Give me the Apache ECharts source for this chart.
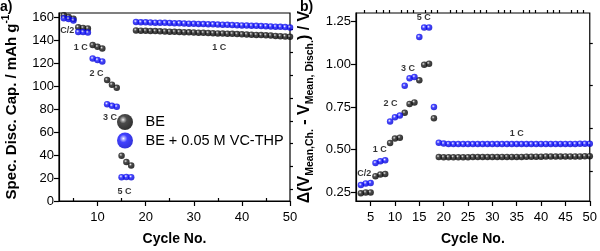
<!DOCTYPE html>
<html><head><meta charset="utf-8">
<script src="https://cdn.jsdelivr.net/npm/echarts@6/dist/echarts.min.js"></script>
<style>html,body{margin:0;padding:0;background:#fff}#c{width:600px;height:251px}</style>
</head><body><div id="c"></div><script>
// ---- Panel a) specific discharge capacity ----
const leftCycles = [3,4,5,6,7,8,9,10,11,12,13,14,15,16,17,
  18,19,20,21,22,23,24,25,26,27,28,29,30,31,32,33,34,35,36,37,38,39,40,41,42,43,44,45,46,47,48,49,50];
const leftBE = [162,160.5,159,151.5,151,150.5,136,134.5,133,105.5,101.5,98.7,39.5,34,31,
  148.8,148.6,148.5,148.3,148.2,148.0,147.9,147.7,147.6,147.4,147.3,147.1,147.0,146.8,146.7,146.5,146.4,146.2,146.1,145.9,145.8,145.6,145.4,145.3,145.1,144.9,144.7,144.5,144.3,144.0,143.8,143.5,143.2];
const leftVC = [159.5,158.8,157.5,147.5,147.5,147,124.3,123,121.8,84.5,83,82.3,20.8,21,20.8,
  156.2,156.0,155.9,155.8,155.6,155.5,155.4,155.3,155.1,155.0,154.9,154.7,154.6,154.5,154.3,154.2,154.1,153.9,153.8,153.7,153.5,153.4,153.2,153.1,152.9,152.8,152.6,152.5,152.3,152.1,151.9,151.7,151.4];
const leftAnnX = [3.7,6.5,9.8,12.6,15.6,35.3];
const leftAnnY = [149,133.6,111,73,8.7,134];
const leftAnnText = ['C/2','1 C','2 C','3 C','5 C','1 C'];
const leftXMajor = [10,20,30,40,50];
const leftXMinor = [5,15,25,35,45];
const leftYMajor = [0,20,40,60,80,100,120,140,160];
const leftYMinor = [10,30,50,70,90,110,130,150];

// ---- Panel b) voltage hysteresis ----
const rightCycles = [3,4,5,6,7,8,9,10,11,12,13,14,15,16,17,18,
  19,20,21,22,23,24,25,26,27,28,29,30,31,32,33,34,35,36,37,38,39,40,41,42,43,44,45,46,47,48,49,50];
const rightBE = [0.245,0.25,0.25,0.345,0.355,0.358,0.539,0.565,0.57,0.716,0.768,0.777,0.906,0.997,1.003,0.684,
  0.457,0.456,0.456,0.456,0.456,0.456,0.456,0.457,0.457,0.457,0.457,0.457,0.457,0.458,0.458,0.458,0.458,0.458,0.459,0.459,0.459,0.459,0.46,0.46,0.46,0.46,0.461,0.461,0.461,0.461,0.462,0.462];
const rightVC = [0.293,0.303,0.306,0.423,0.433,0.438,0.665,0.69,0.70,0.874,0.918,0.926,1.16,1.215,1.215,0.75,
  0.541,0.536,0.534,0.533,0.533,0.533,0.533,0.533,0.533,0.533,0.533,0.533,0.533,0.533,0.533,0.533,0.533,0.533,0.533,0.533,0.533,0.534,0.534,0.534,0.534,0.534,0.534,0.534,0.534,0.535,0.535,0.535];
const rightAnnX = [3.7,6.9,9.1,12.7,15.9,35];
const rightAnnY = [0.361,0.50,0.768,0.978,1.276,0.594];
const rightAnnText = ['C/2','1 C','2 C','3 C','5 C','1 C'];
const rightXMajor = [5,10,15,20,25,30,35,40,45,50];
const rightXMinor = [3.75,6.25,7.5,8.75,11.25,12.5,13.75,16.25,17.5,18.75,21.25,22.5,23.75,26.25,27.5,28.75,31.25,32.5,33.75,36.25,37.5,38.75,41.25,42.5,43.75,46.25,47.5,48.75];
const rightYMajor = [0.25,0.5,0.75,1.0,1.25];
const rightYMinor = [0.375,0.625,0.875,1.125];

const seriesNames = ['BE','BE + 0.05 M VC-THP'];

const FONT = '"Liberation Sans", Arial, sans-serif';
const zip = (xs, ys) => xs.map((x, i) => [x, ys[i]]);
const blackBall = {type:'radial', x:0.38, y:0.36, r:0.62, colorStops:[
  {offset:0, color:'#f0f0f0'},{offset:0.13, color:'#9a9a9a'},{offset:0.38,color:'#1e1e1e'},{offset:1,color:'#000'}]};
const blueBall = {type:'radial', x:0.4, y:0.38, r:0.62, colorStops:[
  {offset:0, color:'#ffffff'},{offset:0.14, color:'#a0a0ff'},{offset:0.4,color:'#1212ff'},{offset:1,color:'#0000d0'}]};

function valAxis(grid, min, max, ticks, len, opts) {
  return Object.assign({
    type:'value', gridIndex:grid, min:min, max:max,
    splitLine:{show:false},
    axisLine:{show:true, lineStyle:{color:'#000', width:1.2}},
    axisTick:{show:true, inside:false, length:len, customValues:ticks, lineStyle:{color:'#000', width:1.2}},
  }, opts);
}
const labelStyle = {color:'#000', fontSize:13, fontFamily:FONT};

const xAxis = [
  valAxis(0, 2, 50, leftXMajor, 5, {axisLabel:Object.assign({customValues:leftXMajor, margin:10}, labelStyle),
    name:'Cycle No.', nameLocation:'middle', nameGap:31,
    nameTextStyle:{fontSize:14, fontWeight:'bold', fontFamily:FONT, color:'#000'}}),
  valAxis(0, 2, 50, leftXMinor, 3, {axisLine:{show:false}, axisLabel:{show:false}}),
  valAxis(1, 2, 50, rightXMajor, 5, {axisLabel:Object.assign({customValues:rightXMajor, margin:10}, labelStyle),
    name:'Cycle No.', nameLocation:'middle', nameGap:31,
    nameTextStyle:{fontSize:14, fontWeight:'bold', fontFamily:FONT, color:'#000'}}),
  valAxis(1, 2, 50, rightXMinor, 3, {axisLine:{show:false}, axisLabel:{show:false}})
];
const yAxis = [
  valAxis(0, 0, 164, leftYMajor, 5, {axisLabel:Object.assign({customValues:leftYMajor, margin:5}, labelStyle),
    name:'Spec. Disc. Cap. / mAh g{sup|-1}', nameLocation:'middle', nameGap:36,
    nameTextStyle:{fontSize:15, fontWeight:'bold', fontFamily:FONT, color:'#000', lineHeight:22,
      rich:{sup:{fontSize:10, fontWeight:'bold', fontFamily:FONT, color:'#000', lineHeight:10, verticalAlign:'top'}}}}),
  valAxis(0, 0, 164, leftYMinor, 3, {axisLine:{show:false}, axisLabel:{show:false}}),
  valAxis(1, 0.2, 1.3, rightYMajor, 5, {axisLabel:Object.assign({customValues:rightYMajor, margin:5,
      formatter:v => v.toFixed(2)}, labelStyle),
    name:'\u0394(V{sub|Mean,Ch.} - V{sub|Mean, Disch.}) / V', nameLocation:'middle', nameGap:40,
    nameTextStyle:{fontSize:16, fontWeight:'bold', fontFamily:FONT, color:'#000', lineHeight:22,
      rich:{sub:{fontSize:10.5, fontWeight:'bold', fontFamily:FONT, color:'#000', lineHeight:10, verticalAlign:'bottom'}}}}),
  valAxis(1, 0.2, 1.3, rightYMinor, 3, {axisLine:{show:false}, axisLabel:{show:false}})
];

function dots(name, xi, yi, data, color, z) {
  return {type:'scatter', name:name, xAxisIndex:xi, yAxisIndex:yi, data:data, symbol:'circle', symbolSize:6.5,
    itemStyle:{color:color}, z:z, animation:false};
}
function ann(xi, yi, xs, ys, texts) {
  return {type:'scatter', xAxisIndex:xi, yAxisIndex:yi, symbolSize:0, silent:true, z:10,
    data: xs.map((x,i)=>({value:[x, ys[i]], name:texts[i]})),
    label:{show:true, position:'inside', formatter:p=>p.name, fontSize:9, fontWeight:'bold', fontFamily:FONT, color:'#000'},
    animation:false};
}

const option = {
  animation:false,
  backgroundColor:'#fff',
  grid:[
    {left:55, right:310, top:13, bottom:50, show:true, borderColor:'#000', borderWidth:1.2, backgroundColor:'transparent'},
    {left:356, right:9, top:13, bottom:50, show:true, borderColor:'#000', borderWidth:1.2, backgroundColor:'transparent'}
  ],
  xAxis:xAxis, yAxis:yAxis,
  legend:{data:seriesNames, orient:'vertical', left:112, top:109, itemWidth:31, itemHeight:16, itemGap:2.5,
    icon:'circle', textStyle:{fontSize:14.5, fontFamily:FONT, color:'#000'}, selectedMode:false},
  graphic:[
    {type:'text', left:0, top:0, style:{text:'a)', fontSize:14, fontWeight:'bold', fontFamily:FONT, fill:'#000'}},
    {type:'text', left:300, top:0, style:{text:'b)', fontSize:14, fontWeight:'bold', fontFamily:FONT, fill:'#000'}}
  ],
  series:[
    dots(seriesNames[0], 0, 0, zip(leftCycles, leftBE), blackBall, 2),
    dots(seriesNames[1], 0, 0, zip(leftCycles, leftVC), blueBall, 3),
    dots(seriesNames[0], 2, 2, zip(rightCycles, rightBE), blackBall, 2),
    dots(seriesNames[1], 2, 2, zip(rightCycles, rightVC), blueBall, 3),
    ann(0, 0, leftAnnX, leftAnnY, leftAnnText),
    ann(2, 2, rightAnnX, rightAnnY, rightAnnText)
  ]
};
echarts.init(document.getElementById('c'), null, {renderer:'canvas'}).setOption(option);
</script></body></html>
